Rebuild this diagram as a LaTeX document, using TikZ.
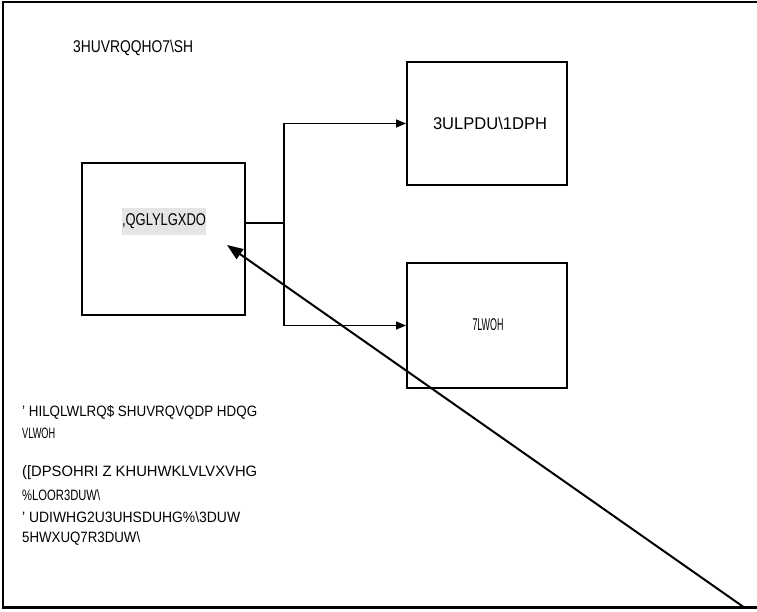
\documentclass[tikz,border=0pt]{standalone}
\usepackage{fontspec}
\setmainfont{Liberation Sans}
\usetikzlibrary{arrows.meta}
\newcommand{\fitw}[2]{\resizebox{#1pt}{\height}{#2}}
\tikzset{
  box/.style={draw=black, line width=2pt, inner sep=0pt},
  lbl/.style={inner sep=0pt, font=\fontsize{17}{20}\selectfont},
  note/.style={inner sep=0pt, anchor=west, font=\fontsize{15}{18}\selectfont},
  conn/.style={draw=black, line width=1.5pt},
  tip/.style={-{Triangle[length=10pt,width=8pt]}},
}
\begin{document}
\begin{tikzpicture}[x=1pt,y=-1pt]
\useasboundingbox (0,0) rectangle (757,611);
% frame
\draw[line width=2.5pt] (758,2) -- (3,2) -- (3,607.5) -- (758,607.5);
% title text
\node[lbl, anchor=west] (ptype) at (73,48) {\fitw{120}{3HUVRQQHO7\textbackslash SH}};
% boxes
\node[box, minimum width=163pt, minimum height=152pt] (ind) at (163.5,239) {};
\node[box, minimum width=160pt, minimum height=123pt] (pn) at (487,123.5) {};
\node[box, minimum width=160pt, minimum height=125pt] (ti) at (487,325.5) {};
% labels
\node[lbl, fill=black!10, minimum width=82pt, minimum height=27pt] (indt) at (164,221.5) {\fitw{84}{,QGLYLGXDO}};
\node[lbl] (pnt) at (490,123) {\fitw{114}{3ULPDU\textbackslash 1DPH}};
\node[lbl] (tit) at (488,325) {\fitw{31}{7LWOH}};
% connectors
\coordinate (j) at (284,223);
\draw[conn] (ind.east |- j) -- (j);
\draw[conn, tip] (j) |- (pn.west);
\draw[conn, tip] (j) |- (ti.west);
% long arrow
\coordinate (tail) at (745,608);
\coordinate (head) at (227,245);
\draw[conn, line width=2pt, -{Triangle[length=16pt,width=12pt]}] (tail) -- (head);
% notes
\node[note] (n1) at (22,412) {\fitw{235}{' HILQLWLRQ\$ SHUVRQVQDP HDQG}};
\node[note] (n2) at (22,433) {\fitw{33}{VLWOH}};
\node[note] (n3) at (22,473) {\fitw{235}{([DPSOHRI Z KHUHWKLVLVXVHG}};
\node[note] (n4) at (22,495) {\fitw{78}{\%LOOR3DUW\textbackslash}};
\node[note] (n5) at (22,517) {\fitw{218}{' UDIWHG2U3UHSDUHG\%\textbackslash 3DUW}};
\node[note] (n6) at (22,538) {\fitw{118}{5HWXUQ7R3DUW\textbackslash}};
\end{tikzpicture}
\end{document}
